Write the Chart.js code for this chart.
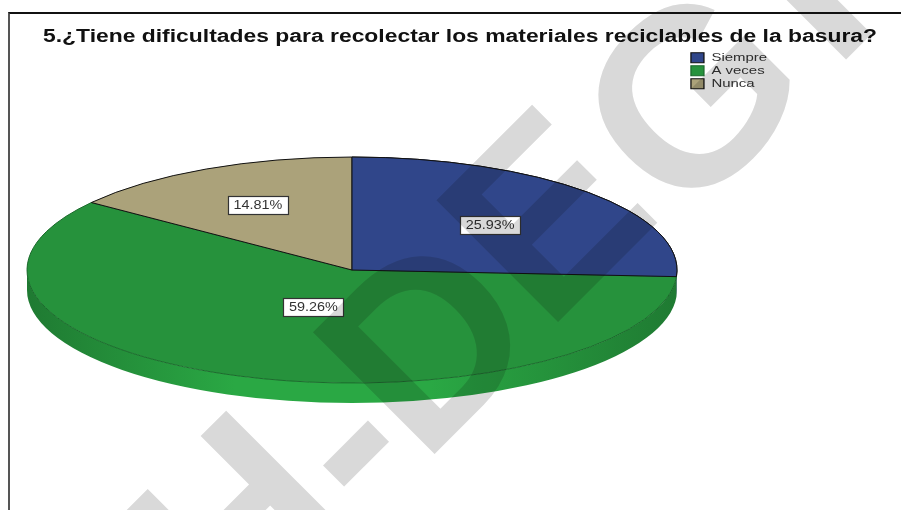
<!DOCTYPE html>
<html><head><meta charset="utf-8">
<style>
html,body{margin:0;padding:0;background:#fff;overflow:hidden}
#wrap{position:relative;width:901px;height:510px}
#frame{position:absolute;left:8px;top:12px;right:0;bottom:0;border-top:2px solid #111;border-left:2px solid #555;pointer-events:none}
canvas{position:absolute;left:0;top:0}
</style>
<script src="https://cdn.jsdelivr.net/npm/chart.js@4"></script>
</head><body>
<div id="wrap"><canvas id="c" width="901" height="510"></canvas><div id="frame"></div></div>
<script>
const titleText = '5.¿Tiene dificultades para recolectar los materiales reciclables de la basura?';
const categories = ['Siempre', 'A veces', 'Nunca'];
const values = [25.93, 59.26, 14.81];
const colors = ['#30468a', '#26923c', '#aba27a'];
const edgeColors = ['#111', '#1b6a2c', '#111'];
const rimStops = [
  ['#1b2b5c', '#1b2b5c'],
  ['#1f7a32', '#2aa844', '#2aa844', '#1f7a32'],
  ['#8a8260', '#8a8260']
];
const labelRadius = [0.584, 0.347, 0.645];
const tilt = 113 / 325;
const depth = 20;
const watermarkLetters = ['H', '-', 'D', 'E', 'G', 'I'];
const watermarkNudge = [[0, 0], [3, 15], [0, 6], [0, 0], [6, 20], [28, 18]];

function stretch(box, ctx, fromX, factor) {
  const orig = box.draw;
  box.draw = function (area) {
    ctx.save();
    ctx.translate(fromX, 0); ctx.scale(factor, 1); ctx.translate(-fromX, 0);
    orig.call(box, area);
    ctx.restore();
  };
}

const ellipse3d = {
  id: 'ellipse3d',
  afterLayout(chart) {
    const t = chart.titleBlock, l = chart.legend, ctx = chart.ctx;
    t.left = 43; t.right = 877;
    const w = l.width, h = l.height;
    l.left = 689; l.right = 689 + w; l.top = 50.5; l.bottom = 50.5 + h;
    if (!chart.$stretched) {
      ctx.font = t.options.font.weight + ' ' + t.options.font.size + 'px "Liberation Sans"';
      stretch(t, ctx, 43, 834 / ctx.measureText(titleText).width);
      stretch(l, ctx, 689, 1.3);
      chart.$stretched = true;
    }
  },
  beforeDatasetsDraw(chart) {
    const ctx = chart.ctx, arcs = chart.getDatasetMeta(0).data;
    const cx = arcs[0].x, cy = arcs[0].y, r = arcs[0].outerRadius;
    arcs.forEach((a, i) => {
      const s = Math.max(a.startAngle, 0), e = Math.min(a.endAngle, Math.PI);
      if (e <= s) return;
      const g = ctx.createLinearGradient(cx - r, 0, cx + r, 0);
      rimStops[i].forEach((col, k, all) => g.addColorStop(all.length === 4 ? [0, .32, .62, 1][k] : k / (all.length - 1), col));
      ctx.beginPath();
      ctx.ellipse(cx, cy, r, r * tilt, 0, s, e);
      ctx.ellipse(cx, cy + depth, r, r * tilt, 0, e, s, true);
      ctx.closePath();
      ctx.fillStyle = g;
      ctx.fill();
    });
    ctx.save();
    ctx.translate(cx, cy); ctx.scale(1, tilt); ctx.translate(-cx, -cy);
    const base = new DOMMatrix();
    const proto = CanvasRenderingContext2D.prototype.stroke;
    ctx.stroke = function () { ctx.save(); ctx.setTransform(base); proto.call(ctx); ctx.restore(); };
  },
  afterDatasetsDraw(chart) {
    const ctx = chart.ctx, arcs = chart.getDatasetMeta(0).data;
    arcs[0].draw(ctx);
    delete ctx.stroke;
    ctx.restore();
    ctx.save();
    ctx.font = '12px "Liberation Sans", Arial, sans-serif';
    ctx.textAlign = 'center'; ctx.textBaseline = 'middle';
    arcs.forEach((a, i) => {
      const mid = (a.startAngle + a.endAngle) / 2, rr = a.outerRadius * labelRadius[i];
      const x = a.x + Math.cos(mid) * rr, y = a.y + Math.sin(mid) * rr * tilt;
      const bx = Math.round(x - 30) + .5, by = Math.round(y - 9) + .5;
      ctx.fillStyle = '#fff'; ctx.strokeStyle = '#333'; ctx.lineWidth = 1.2;
      ctx.fillRect(bx, by, 60, 18); ctx.strokeRect(bx, by, 60, 18);
      ctx.fillStyle = '#333';
      ctx.save();
      ctx.translate(x, y + .5); ctx.scale(1.2, 1);
      ctx.fillText(values[i].toFixed(2) + '%', 0, 0);
      ctx.restore();
    });
    ctx.restore();
  },
  afterDraw(chart) {
    const ctx = chart.ctx;
    ctx.save();
    ctx.globalCompositeOperation = 'multiply';
    ctx.fillStyle = '#d9d9d9';
    ctx.translate(232, 648);
    ctx.rotate(-Math.PI / 4);
    ctx.font = 'bold 250px "Liberation Sans", Arial, sans-serif';
    ctx.textBaseline = 'alphabetic';
    let pen = 0;
    watermarkLetters.forEach((ch, i) => {
      ctx.fillText(ch, pen + watermarkNudge[i][0], watermarkNudge[i][1]);
      pen += ctx.measureText(ch).width;
    });
    ctx.restore();
  }
};

new Chart(document.getElementById('c'), {
  type: 'pie',
  data: { labels: categories, datasets: [{
    data: values, backgroundColor: colors, borderColor: edgeColors, borderWidth: 1, clip: false
  }] },
  plugins: [ellipse3d],
  options: {
    responsive: false, animation: false, radius: 325,
    layout: { padding: { left: 0, right: 197, top: 0, bottom: 19 } },
    plugins: {
      tooltip: { enabled: false },
      title: { display: true, text: titleText, align: 'start', color: '#111',
        font: { family: '"Liberation Sans", Arial, sans-serif', size: 18, weight: 'bold', lineHeight: 1.17 },
        padding: { top: 27, bottom: 1 } },
      legend: { position: 'chartArea', align: 'start',
        labels: { boxWidth: 10, boxHeight: 10, padding: 1.5, color: '#333',
          font: { family: '"Liberation Sans", Arial, sans-serif', size: 11.5 } } }
    }
  }
});
</script>
</body></html>
